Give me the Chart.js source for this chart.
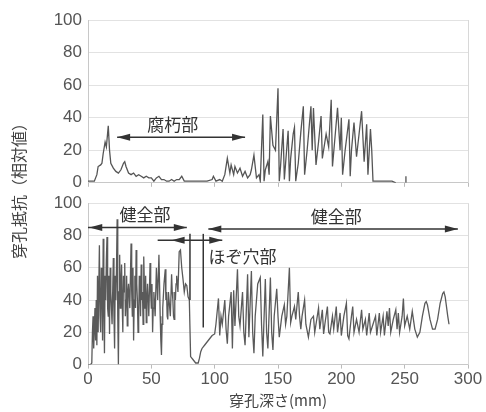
<!DOCTYPE html>
<html>
<head>
<meta charset="utf-8">
<script src="https://cdn.jsdelivr.net/npm/chart.js@4.4.0/dist/chart.umd.min.js"></script>
<style>
body { margin:0; background:#fff; width:486px; height:412px; position:relative; overflow:hidden; }
#topChart { position:absolute; left:0; top:0; }
#bottomChart { position:absolute; left:0; top:187px; }
#ytitle { position:absolute; left:18px; top:187px; transform:translate(-50%,-50%) rotate(-90deg);
  font:16px "Noto Sans CJK JP"; color:#444; white-space:nowrap; }
</style>
</head>
<body>
<canvas id="topChart" width="486" height="199"></canvas>
<canvas id="bottomChart" width="486" height="222"></canvas>
<div id="ytitle">穿孔抵抗（相対値）</div>
<script>
// 上段: 腐朽材の穿孔抵抗
let topX = [0,3,5,7,8,10,11,12,13.5,14.5,16,17,18,20,22,24,26,28,29,30,32,34,36,38,40,42,44,46,48,50,52,54,56,58,60,62,64,66,68,70,72,74,76,78,82,86,90,94,98,99,101,104,106,108,110,112,113,115,116,118,120,122,124,126,128,129,131,133,135,136,138,139,140,142,143,144,146,148,150,151,152,154,155,156,158,159,160,162,163,164,166,168,170,171,173,176,177,178,180,182,184,185,188,190,192,193,195,197,199,200,201,203,206,207,208,210,212,214,216,218,220,221,223,224,225,230,235,240,243,246,251,251];
let topY = [1,1,1,5,10,11,12,18,25,22,35,20,12,9,7,6,8,12,13,10,6,5,6,4,5,4,3,4,3,3,1,3,4,2,2,1,1,2,1,2,2,4,1,1,1,1,1,1,2,4,1,2,1,5,15,6,11,5,10,6,9,4,7,3,5,8,17,3,5,1,42,1,8,13,5,41,23,20,58,1,10,33,2,12,32,1,15,30,34,1,12,31,47,5,20,47,20,46,11,25,41,15,30,22,51,10,28,46,20,40,5,20,39,4,20,37,16,30,44,13,36,5,33,20,1,1,1,1,0,null,0,4];

// 下段: 健全部とほぞ穴部
let bottomX = [
  0,2,3,3.5,4,4.5,5.5,6,6.5,7,
  7.5,8,9,9.5,10,10.5,11,11.5,12,12.5,
  13,13.5,14,14.5,15,15.5,16,16.5,17,17.5,
  18,19,20,20.5,21,21.5,22,22.5,23,23.5,
  24,24.5,25,25.5,26,26.5,27,27.5,28,28.5,
  29,29.5,30,30.5,31,31.5,32,33,34,34.5,
  35,35.5,36,36.5,37,37.5,38,38.5,39,39.5,
  40,40.5,41,41.5,42,42.5,43,43.5,44,44.5,
  45,45.5,46,46.5,47,48,49,49.5,50,50.5,
  51,51.5,52,53,54,55,56,56.5,57,57.5,
  58,58.5,59,60,61,61.5,62,62.5,63,63.5,
  64,65,66,66.5,67,67.5,68,68.5,69,69.5,
  70,71,72,73,74,75,76,77,78,79,
  80,81,
  83,85,87,88,89,90,92,94,96,98,100,101,103,104,105,106,108,109,110,111,113,114,115,116,118,119,120,122,123,124,126,127,129,130,131,132,134,136,137,138,140,141,142,144,145,146,147,149,150,151,153,155,156,157,159,160,161,163,164,166,167,168,169,171,172,174,176,178,179,180,182,183,185,186,187,189,190,191,193,194,196,197,199,200,202,204,205,206,208,209,210,212,214,216,217,219,220,222,223,225,227,228,230,231,233,234,236,237,238,239,241,243,244,245,246,248,249,250,252,254,256,258,260,262,264,266,267,268,270,272,274,276,278,280,281,282,284,285];
let bottomY = [
  0,0,1,20,30,10,35,15,40,12,
  55,20,74,30,20,60,50,15,78,40,
  7,55,40,65,79,35,30,55,19,60,
  45,25,66,30,10,55,40,60,90,30,
  0,45,68,35,50,62,38,20,55,45,
  63,30,40,55,24,45,50,35,75,45,
  30,60,15,40,55,35,71,50,40,20,
  28,55,50,30,62,40,45,25,67,50,
  35,55,26,40,50,30,63,45,35,50,
  20,35,45,30,60,40,68,50,30,15,
  6,25,35,50,59,40,45,30,28,45,
  40,30,56,45,40,30,28,45,40,50,
  55,45,70,71,60,53,45,50,49,42,
  40,5,
  3,1,1,4,8,10,12,14,16,18,19,25,41,18,30,25,40,22,13,30,45,10,46,24,59,30,24,45,20,12,56,17,58,20,7,30,50,54,25,5,53,20,10,54,20,9,30,47,30,17,30,37,25,30,60,26,30,36,28,45,30,22,30,40,25,17,28,30,20,25,35,22,34,19,25,36,20,19,30,22,36,20,32,18,30,38,18,16,30,36,20,28,20,34,22,28,18,32,20,25,30,18,32,20,30,18,33,24,35,20,28,34,22,32,20,30,41,24,30,22,33,22,17,20,30,38,39,37,28,22,22,28,38,44,45,42,30,25];

let xTicks = [0,50,100,150,200,250,300];

// 注記
let topArrows = [{y:28, x1:23, x2:124, heads:[[23,-1],[124,1]]}];
let topLabels = [{text:'腐朽部', x:67, y:36}];
let bottomArrows = [
  {y:85, x1:0, x2:78, heads:[[1,-1],[78,1]]},
  {y:84, x1:95, x2:292, heads:[[95,-1],[292,1]]},
  {y:77, x1:55, x2:106, heads:[[66,-1],[106,1]]}
];
let bottomLabels = [
  {text:'健全部', x:45, y:93},
  {text:'健全部', x:196, y:92},
  {text:'ほぞ穴部', x:122, y:67}
];
let bottomVLines = [{x:80.5, y1:81, y2:40}, {x:91, y1:81, y2:23}];

function toPoints(xs, ys){
  let pts = [];
  xs.forEach(function(x, i){ pts.push({x: x, y: ys[i]}); });
  return pts;
}

const notes = {
  id: 'notes',
  afterDatasetsDraw(chart, args, opts){
    const ctx = chart.ctx, sx = chart.scales.x, sy = chart.scales.y, a = chart.chartArea;
    ctx.save();
    // 枠
    ctx.strokeStyle = '#d8d8d8'; ctx.lineWidth = 1;
    ctx.beginPath(); ctx.moveTo(a.right+0.5, a.top); ctx.lineTo(a.right+0.5, a.bottom); ctx.stroke();
    ctx.strokeStyle = '#333'; ctx.fillStyle = '#333'; ctx.lineWidth = 1.5;
    (opts.vlines || []).forEach(function(v){
      const x = sx.getPixelForValue(v.x);
      ctx.beginPath(); ctx.moveTo(x, sy.getPixelForValue(v.y1)); ctx.lineTo(x, sy.getPixelForValue(v.y2)); ctx.stroke();
    });
    (opts.arrows || []).forEach(function(ar){
      const y = sy.getPixelForValue(ar.y);
      ctx.beginPath(); ctx.moveTo(sx.getPixelForValue(ar.x1), y); ctx.lineTo(sx.getPixelForValue(ar.x2), y); ctx.stroke();
      ar.heads.forEach(function(h){
        const tip = sx.getPixelForValue(h[0]), d = h[1];
        ctx.beginPath();
        ctx.moveTo(tip, y);
        ctx.lineTo(tip - d*13, y - 3.5);
        ctx.lineTo(tip - d*13, y + 3.5);
        ctx.closePath(); ctx.fill();
      });
    });
    ctx.font = '17px "Noto Sans CJK JP"';
    ctx.fillStyle = '#333'; ctx.textAlign = 'center'; ctx.textBaseline = 'middle';
    (opts.labels || []).forEach(function(l){
      ctx.fillText(l.text, sx.getPixelForValue(l.x), sy.getPixelForValue(l.y));
    });
    ctx.restore();
  }
};

function makeOptions(isBottom, arrows, labels, vlines){
  return {
    responsive: false,
    animation: false,
    layout: { padding: { top: isBottom ? 5 : 20, right: 18, left: 0, bottom: 0 } },
    plugins: {
      legend: { display: false },
      tooltip: { enabled: false },
      notes: { arrows: arrows, labels: labels, vlines: vlines }
    },
    scales: {
      x: {
        type: 'linear', min: 0, max: 300,
        afterBuildTicks: function(s){ s.ticks = xTicks.map(function(v){ return {value: v}; }); },
        afterFit: function(s){ if(!isBottom) s.height = 10; },
        grid: { drawOnChartArea: false, drawTicks: true, tickLength: 4, color: '#bbb' },
        border: { color: '#c8c8c8' },
        ticks: { display: isBottom, color: '#555', padding: 1, font: { family: 'Liberation Sans', size: 17 } },
        title: { display: isBottom, text: '穿孔深さ(mm)', color: '#444', padding: { top: 0, bottom: 0 },
          font: { family: 'Noto Sans CJK JP', size: 15 } }
      },
      y: {
        min: 0, max: 100,
        afterFit: function(s){ s.width = 88; },
        ticks: { stepSize: 20, color: '#555', padding: 6, font: { family: 'Liberation Sans', size: 17 } },
        grid: { color: '#e2e2e2', drawTicks: false },
        border: { color: '#c8c8c8' }
      }
    }
  };
}

new Chart(document.getElementById('topChart'), {
  type: 'line',
  data: { datasets: [{ data: toPoints(topX, topY), borderColor: '#555', borderWidth: 1.3,
    pointRadius: 0, tension: 0, spanGaps: false }] },
  options: makeOptions(false, topArrows, topLabels, []),
  plugins: [notes]
});

new Chart(document.getElementById('bottomChart'), {
  type: 'line',
  data: { datasets: [{ data: toPoints(bottomX, bottomY), borderColor: '#5a5a5a', borderWidth: 1.3,
    pointRadius: 0, tension: 0 }] },
  options: makeOptions(true, bottomArrows, bottomLabels, bottomVLines),
  plugins: [notes]
});
</script>
</body>
</html>
